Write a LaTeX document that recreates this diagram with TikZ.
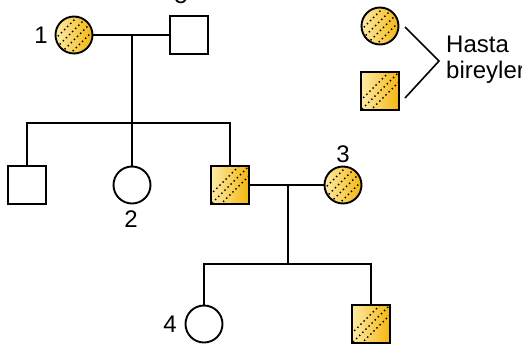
\documentclass[tikz,border=0pt]{standalone}
\usepackage{fontspec}
\setmainfont{Liberation Sans}
\usetikzlibrary{calc}

\definecolor{hlight}{HTML}{FCEBA8}
\definecolor{hdark}{HTML}{F5B60E}

\tikzset{
  line/.style={line width=1.9pt},
  person/.style={draw, line width=1.9pt, inner sep=0pt, fill=white},
  male/.style={person, rectangle, minimum size=38pt},
  female/.style={person, circle, minimum size=37pt},
  dotline/.style={line width=2pt, line cap=round, dash pattern=on 0pt off 4.4pt},
  affsq/.style={left color=hlight, right color=hdark,
    path picture={
      \foreach \d in {-7,0,7}
        \draw[dotline] ($(path picture bounding box.center)+(\d*0.7071pt-30pt,-\d*0.7071pt-30pt)$)
          -- ++(60pt,60pt);
    }},
  affci/.style={left color=hlight, right color=hdark,
    path picture={
      \foreach \d in {-10.5,-3.5,3.5,10.5}
        \draw[dotline] ($(path picture bounding box.center)+(\d*0.7071pt-30pt,-\d*0.7071pt-30pt)$)
          -- ++(60pt,60pt);
    }},
  num/.style={font=\fontsize{24}{28}\selectfont, inner sep=0pt, anchor=base},
  legendtext/.style={font=\fontsize{24}{28}\selectfont, inner sep=0pt, anchor=base west}
}

\begin{document}
\begin{tikzpicture}[x=1pt, y=-1pt]
  \useasboundingbox (0,0) rectangle (522,346);

  % first generation
  \node[female, affci] (f1) at (74,35) {};
  \node[male] (m1) at (189,35) {};
  \node[num] (l1) at (41,43) {1};
  \node[num] (l5) at (181,3.5) {5};

  % second generation
  \node[male] (c1) at (27,185) {};
  \node[female] (c2) at (132,185) {};
  \node[male, affsq] (c3) at (230,185) {};
  \node[female, affci] (f3) at (343,185) {};
  \node[num] (l2) at (131,227) {2};
  \node[num] (l3) at (343,162) {3};

  % third generation
  \node[female] (g1) at (204,324) {};
  \node[male, affsq] (g2) at (371,324) {};
  \node[num] (l4) at (170,332) {4};

  % marriage and descent lines
  \coordinate (mar1) at (132,35);
  \coordinate (sib1) at (132,123);
  \coordinate (mar2) at (288,185);
  \coordinate (sib2) at (288,264);

  \draw[line] (f1) -- (m1);
  \draw[line] (mar1) -- (sib1);
  \draw[line] (c1.north) |- (sib1) -| (c3.north);
  \draw[line] (sib1) -- (c2.north);

  \draw[line] (c3) -- (f3);
  \draw[line] (mar2) -- (sib2);
  \draw[line] (g1.north) |- (sib2) -| (g2.north);

  % legend
  \node[female, affci] (kc) at (380,26) {};
  \node[male, affsq] (ks) at (380,91) {};
  \coordinate (bt) at (405,27);
  \coordinate (bm) at (439,61);
  \coordinate (bb) at (405,98);
  \draw[line, line width=1.6pt, line join=miter] (bt) -- (bm) -- (bb);
  \node[legendtext] (t1) at (446,52) {Hasta};
  \node[legendtext] (t2) at (446,78) {bireyler};
\end{tikzpicture}
\end{document}
